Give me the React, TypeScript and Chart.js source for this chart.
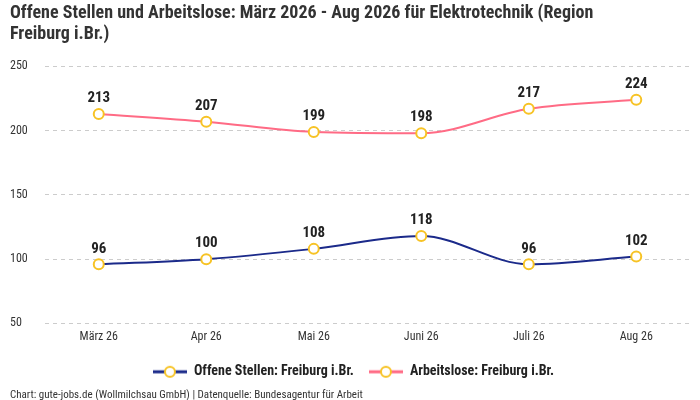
import React, { useEffect, useRef } from 'react'
import { Chart, registerables } from 'chart.js'

Chart.register(...registerables)

const months = ['März 26', 'Apr 26', 'Mai 26', 'Juni 26', 'Juli 26', 'Aug 26']
const offeneStellen = [96, 100, 108, 118, 96, 102]
const arbeitslose = [213, 207, 199, 198, 217, 224]
const yTicks = [50, 100, 150, 200, 250]

const FONT = '"Roboto Condensed", "Liberation Sans Narrow", "Roboto", sans-serif'
const BLUE = '#1b2a8a'
const PINK = '#ff6b85'
const YELLOW = '#f7c325'

const legendIcon = (color: string) => {
  const c = document.createElement('canvas')
  c.width = 34
  c.height = 14
  const ctx = c.getContext('2d')
  if (ctx) {
    ctx.strokeStyle = color
    ctx.lineWidth = 3
    ctx.beginPath()
    ctx.moveTo(0, 7)
    ctx.lineTo(34, 7)
    ctx.stroke()
    ctx.fillStyle = '#fff'
    ctx.strokeStyle = YELLOW
    ctx.lineWidth = 2
    ctx.beginPath()
    ctx.arc(17, 7, 5, 0, Math.PI * 2)
    ctx.fill()
    ctx.stroke()
  }
  return c
}

const valueLabels = {
  id: 'valueLabels',
  afterDatasetsDraw(chart: any) {
    const ctx = chart.ctx
    ctx.save()
    ctx.font = `bold 15px ${FONT}`
    ctx.fillStyle = '#222'
    ctx.textAlign = 'center'
    ctx.textBaseline = 'bottom'
    chart.data.datasets.forEach((ds: any, i: number) => {
      chart.getDatasetMeta(i).data.forEach((pt: any, j: number) => {
        ctx.fillText(String(ds.data[j]), pt.x, pt.y - 8)
      })
    })
    ctx.restore()
  },
}

const App = () => {
  const chartRef = useRef<HTMLCanvasElement>(null)

  useEffect(() => {
    document.body.style.margin = '0'
    if (!chartRef.current) return
    const ctx = chartRef.current.getContext('2d')
    if (!ctx) return

    const icons = [legendIcon(BLUE), legendIcon(PINK)]

    const chart = new Chart(ctx, {
      type: 'line',
      data: {
        labels: months,
        datasets: [
          {
            label: 'Offene Stellen: Freiburg i.Br.',
            data: offeneStellen,
            borderColor: BLUE,
            backgroundColor: BLUE,
            borderWidth: 2,
            cubicInterpolationMode: 'monotone',
            pointRadius: 5,
            pointBorderWidth: 2,
            pointBorderColor: YELLOW,
            pointBackgroundColor: '#fff',
          },
          {
            label: 'Arbeitslose: Freiburg i.Br.',
            data: arbeitslose,
            borderColor: PINK,
            backgroundColor: PINK,
            borderWidth: 2,
            cubicInterpolationMode: 'monotone',
            pointRadius: 5,
            pointBorderWidth: 2,
            pointBorderColor: YELLOW,
            pointBackgroundColor: '#fff',
          },
        ],
      },
      plugins: [valueLabels],
      options: {
        animation: false,
        responsive: true,
        maintainAspectRatio: false,
        layout: { padding: 0 },
        scales: {
          x: {
            offset: true,
            grid: { display: false, drawTicks: false },
            border: { display: false },
            ticks: { color: '#333', padding: 6, font: { family: FONT, size: 12 } },
          },
          y: {
            min: 50,
            max: 250,
            afterBuildTicks: (axis: any) => {
              axis.ticks = yTicks.map((v) => ({ value: v }))
            },
            afterFit: (axis: any) => {
              axis.width = 35
            },
            grid: { color: '#cccccc', tickLength: 0, drawTicks: false },
            border: { display: false, dash: [4, 4] },
            ticks: {
              color: '#333',
              padding: 15,
              crossAlign: 'far',
              font: { family: FONT, size: 12 },
            },
          },
        },
        plugins: {
          title: {
            display: true,
            text: [
              'Offene Stellen und Arbeitslose: März 2026 - Aug 2026 für Elektrotechnik (Region',
              'Freiburg i.Br.)',
            ],
            align: 'start',
            color: '#333',
            font: { family: FONT, size: 18, weight: 'bold', lineHeight: 1.15 },
            padding: { top: 3, bottom: 22 },
          },
          legend: {
            position: 'bottom',
            labels: {
              usePointStyle: true,
              pointStyleWidth: 34,
              boxHeight: 14,
              color: '#222',
              padding: 15,
              font: { family: FONT, size: 14, weight: 'bold' },
              generateLabels: (c: any) =>
                c.data.datasets.map((ds: any, i: number) => ({
                  text: ds.label,
                  fillStyle: ds.borderColor,
                  strokeStyle: ds.borderColor,
                  pointStyle: icons[i],
                  datasetIndex: i,
                  fontColor: '#222',
                })),
            },
          },
          subtitle: {
            display: true,
            position: 'bottom',
            align: 'start',
            text: 'Chart: gute-jobs.de (Wollmilchsau GmbH) | Datenquelle: Bundesagentur für Arbeit',
            color: '#333',
            font: { family: FONT, size: 11 },
            padding: { top: 0, bottom: -2 },
          },
          tooltip: { enabled: false },
        },
      },
    })

    return () => {
      chart.destroy()
    }
  }, [])

  return (
    <div style={{ width: 700, height: 400, padding: '0 3px 0 10px', boxSizing: 'border-box' }}>
      <canvas ref={chartRef} />
    </div>
  )
}

export default App
